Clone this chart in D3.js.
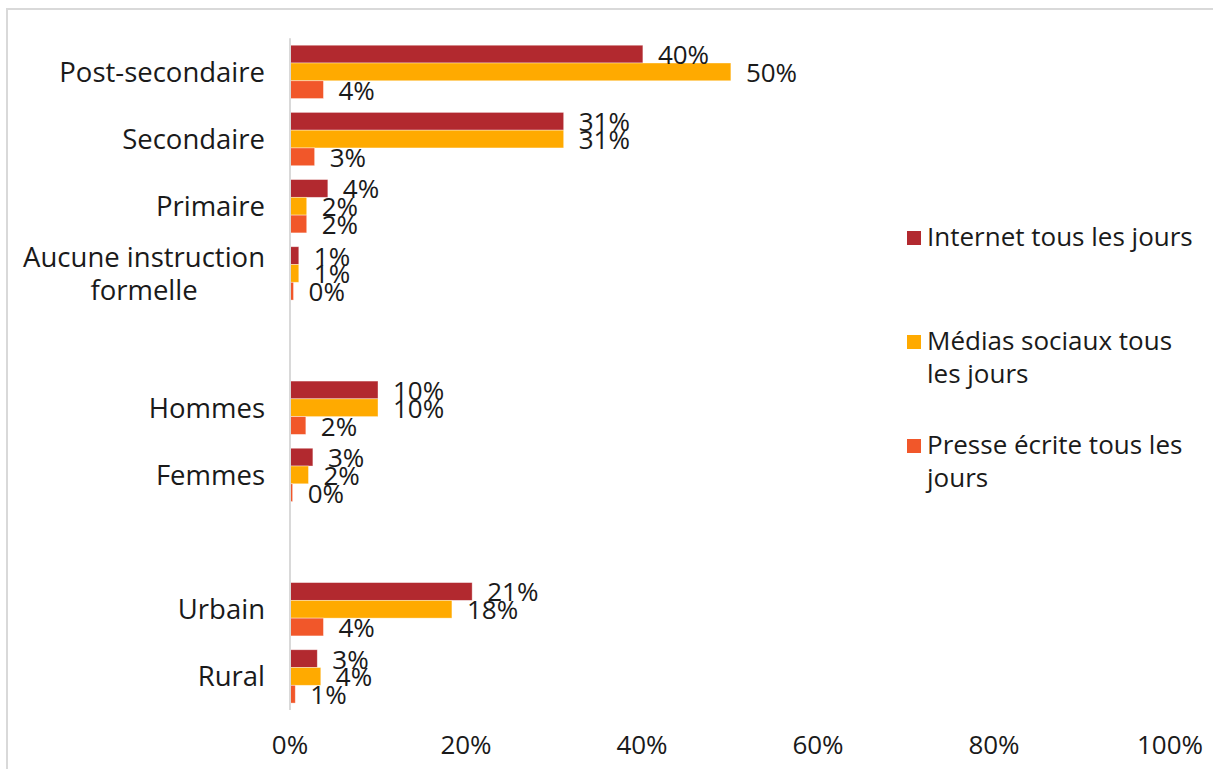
<!DOCTYPE html>
<html>
<head>
<meta charset="utf-8">
<script src="https://cdn.jsdelivr.net/npm/d3@7"></script>
<style>
  html, body { margin: 0; padding: 0; background: #fff; }
  svg { display: block; }
  text { font-family: "Open Sans", "Noto Sans", sans-serif; fill: #1a1a1a; }
</style>
</head>
<body>
<svg id="chart" width="1213" height="769"></svg>
<script>
// ---- data ----
const categories = [
  "Post-secondaire", "Secondaire", "Primaire", "Aucune instruction\nformelle", "",
  "Hommes", "Femmes", "", "Urbain", "Rural"
];
const seriesNames = ["Internet tous les jours", "Médias sociaux tous\nles jours", "Presse écrite tous les\njours"];
const internet = [0.401, 0.311, 0.043, 0.010, null, 0.100, 0.026, null, 0.207, 0.031];
const medias   = [0.501, 0.311, 0.019, 0.010, null, 0.100, 0.021, null, 0.184, 0.035];
const presse   = [0.038, 0.028, 0.019, 0.004, null, 0.018, 0.003, null, 0.038, 0.006];
const colors = ["#B2292F", "#FFAA00", "#F1572A"];
const xTicks = [0, 0.2, 0.4, 0.6, 0.8, 1.0];

const seriesValues = [internet, medias, presse];

const svg = d3.select("#chart");
const FS = 26;
const FS_CAT = 27.5;

// border
svg.append("rect").attr("x", 7).attr("y", 9).attr("width", 1230).attr("height", 790)
  .attr("fill", "none").attr("stroke", "#d9d9d9").attr("stroke-width", 2);

const x = d3.scaleLinear().domain([0, 1]).range([290, 1170]);
const y0 = d3.scaleBand().domain(d3.range(categories.length)).range([38.3, 710]).paddingInner(0).paddingOuter(0);
const y1 = d3.scaleBand().domain(d3.range(seriesValues.length))
  .range([y0.bandwidth() * 0.103, y0.bandwidth() * 0.897]);

// bars
const groups = svg.append("g").selectAll("g")
  .data(categories.map((c, i) => i))
  .join("g")
  .attr("transform", i => `translate(0,${y0(i)})`);

seriesValues.forEach((vals, s) => {
  groups.filter(i => vals[i] != null)
    .append("rect")
    .attr("x", x(0))
    .attr("y", y1(s))
    .attr("width", i => x(vals[i]) - x(0))
    .attr("height", y1.bandwidth())
    .attr("fill", colors[s])
    .attr("stroke", "#ffffff").attr("stroke-opacity", 0.5).attr("stroke-width", 0.75);
});

// value labels
const fmt = d3.format(".0%");
seriesValues.forEach((vals, s) => {
  groups.filter(i => vals[i] != null)
    .append("text")
    .attr("x", i => x(vals[i]) + 15)
    .attr("y", y1(s) + y1.bandwidth() / 2 + 10)
    .attr("font-size", FS)
    .text(i => fmt(vals[i]));
});

// axis line
svg.append("line").attr("x1", x(0)).attr("x2", x(0))
  .attr("y1", y0.range()[0]).attr("y2", y0.range()[1])
  .attr("stroke", "#d9d9d9").attr("stroke-width", 2);

// category labels
categories.forEach((c, i) => {
  if (!c) return;
  const lines = c.split("\n");
  const cy = y0(i) + y0.bandwidth() / 2;
  const t = svg.append("text").attr("font-size", FS_CAT);
  if (lines.length === 1) {
    t.attr("x", 265).attr("y", cy + 10).attr("text-anchor", "end").text(c);
  } else {
    const tmp = svg.append("text").attr("font-size", FS_CAT);
    const widths = lines.map(l => { tmp.text(l); return tmp.node().getComputedTextLength(); });
    tmp.remove();
    const cx = 265 - d3.max(widths) / 2;
    t.attr("text-anchor", "middle");
    lines.forEach((l, k) => {
      t.append("tspan").attr("x", cx)
        .attr("y", cy + 10 + (k - (lines.length - 1) / 2) * 33)
        .text(l);
    });
  }
});

// x tick labels
svg.append("g").selectAll("text").data(xTicks).join("text")
  .attr("x", d => x(d)).attr("y", 754)
  .attr("text-anchor", "middle").attr("font-size", FS)
  .text(d => fmt(d));

// legend
const legendY = [246, 350, 454];
seriesNames.forEach((n, s) => {
  svg.append("rect").attr("x", 907).attr("y", legendY[s] - 15).attr("width", 14).attr("height", 14)
    .attr("fill", colors[s]);
  const t = svg.append("text").attr("font-size", FS);
  n.split("\n").forEach((l, k) => {
    t.append("tspan").attr("x", 927).attr("y", legendY[s] + k * 33).text(l);
  });
});
</script>
</body>
</html>
